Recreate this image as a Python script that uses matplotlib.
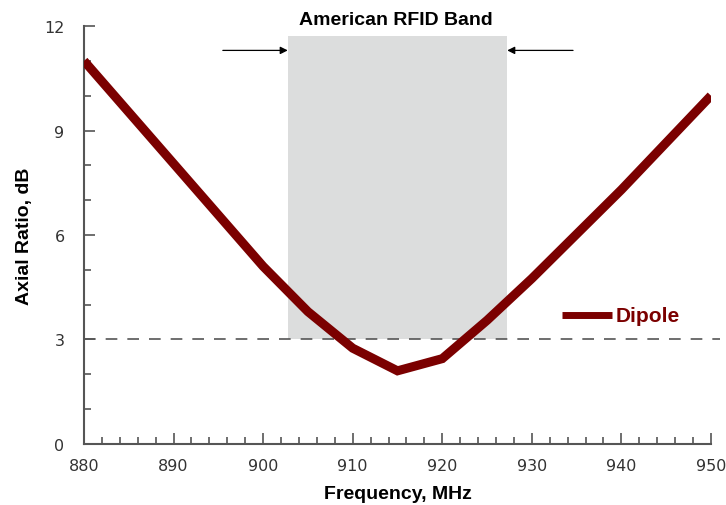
import numpy as np
import matplotlib
matplotlib.use("Agg")
import matplotlib.pyplot as plt
from matplotlib.ticker import MultipleLocator

# axial ratio of the dipole vs frequency
freq_mhz = [880, 890, 900, 905, 910, 915, 920, 925, 930, 940, 950]
axial_db = [11.0, 8.05, 5.1, 3.8, 2.75, 2.1, 2.45, 3.55, 4.75, 7.3, 10.0]

band_lo, band_hi = 902.75, 927.25   # American RFID band
band_top = 11.7
ar_limit = 3.0

LINE_C = "#7b0000"
AXIS_C = "#555555"
FONT = "Liberation Sans"

fig = plt.figure(figsize=(7.26, 5.06), dpi=100)
ax = fig.add_axes([0.1157, 0.1206, 0.8636, 0.826])

ax.fill_between([band_lo, band_hi], ar_limit, band_top, color="#dcdddd", lw=0, zorder=1)
ax.plot([880, 951], [ar_limit, ar_limit], ls=(0, (7, 6)), color="#555555", lw=1.2,
        clip_on=False, zorder=2)
ax.plot(freq_mhz, axial_db, color=LINE_C, lw=6.5, solid_capstyle="butt",
        solid_joinstyle="miter", zorder=3)

# band markers
for tip, tail in ((band_lo, 895.5), (band_hi, 934.6)):
    ax.annotate("", xy=(tip, 11.3), xytext=(tail, 11.3),
                arrowprops=dict(arrowstyle="-|>", color="black", lw=0.9,
                                mutation_scale=11, shrinkA=0, shrinkB=0))
ax.text(914.8, 12.2, "American RFID Band", ha="center", va="center",
        fontsize=14, fontweight="bold", family=FONT)

# legend entry
ax.plot([933.4, 938.9], [3.7, 3.7], color=LINE_C, lw=5, solid_capstyle="butt")
ax.text(939.4, 3.7, "Dipole", ha="left", va="center", fontsize=15,
        fontweight="bold", color=LINE_C, family=FONT)

ax.set_xlim(880, 950)
ax.set_ylim(0, 12)
ax.xaxis.set_major_locator(MultipleLocator(10))
ax.xaxis.set_minor_locator(MultipleLocator(2))
ax.yaxis.set_major_locator(MultipleLocator(3))
ax.yaxis.set_minor_locator(MultipleLocator(1))

for side in ("top", "right"):
    ax.spines[side].set_visible(False)
for side in ("left", "bottom"):
    ax.spines[side].set_color(AXIS_C)
    ax.spines[side].set_linewidth(1.5)

ax.tick_params(which="both", direction="in", color=AXIS_C, width=1.2,
               labelcolor="#333333", labelsize=11.5)
ax.tick_params(which="major", length=8)
ax.tick_params(which="minor", length=5)
ax.tick_params(axis="y", pad=14)
ax.tick_params(axis="x", pad=10)

ax.set_xlabel("Frequency, MHz", fontsize=14, fontweight="bold",
              family=FONT, labelpad=9)
ax.set_ylabel("Axial Ratio, dB", fontsize=14, fontweight="bold",
              family=FONT, labelpad=8)

fig.savefig("out.png", dpi=100)
